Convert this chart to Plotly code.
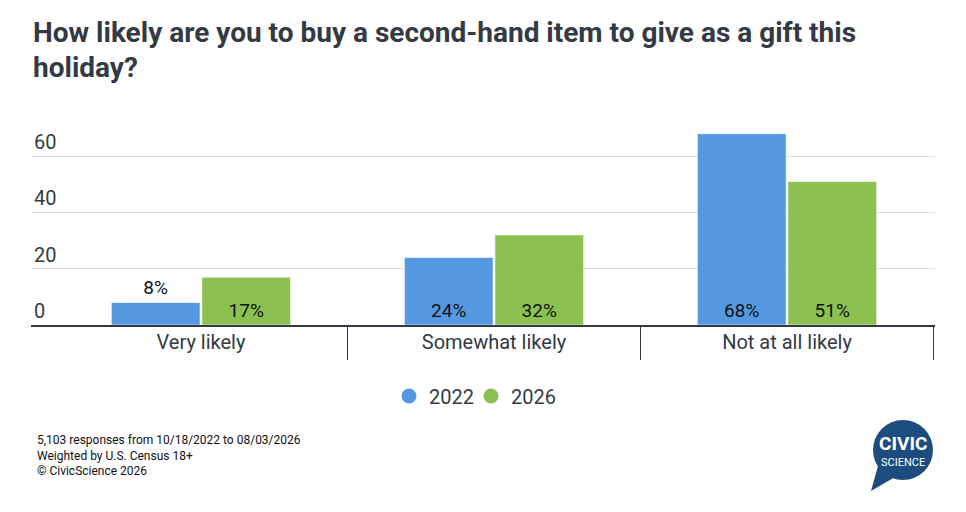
import plotly.graph_objects as go

# Survey data
categories = ['Very likely', 'Somewhat likely', 'Not at all likely']
years = ['2022', '2026']
values_2022 = [8, 24, 68]
values_2026 = [17, 32, 51]
y_ticks = [0, 20, 40, 60]

colors = {'2022': '#5699e3', '2026': '#8cc152'}
dark = '#333a44'
font = 'Roboto'

# page body adds an 8px offset, so the figure is a little smaller
O = 8
W, H = 966 - O, 512 - O
L, R, T, B = 31 - O, 31, 114 - O, 187


def px(x, y):
    # convert a screen pixel position to paper coordinates
    x, y = x - O, y - O
    return (x - L) / (W - L - R), (H - B - y) / (H - T - B)


fig = go.Figure()

series = [('2022', values_2022, ['outside', 'inside', 'inside'], 'legend'),
          ('2026', values_2026, ['inside', 'inside', 'inside'], 'legend2')]
for year, vals, pos, leg in series:
    fig.add_trace(go.Bar(
        x=categories,
        y=vals,
        name=year,
        marker=dict(color=colors[year], line=dict(color='rgba(255,255,255,0.6)', width=1)),
        text=[f'{v}%' for v in vals],
        textposition=pos,
        insidetextanchor='start',
        constraintext='none',
        textfont=dict(family=font, size=19, color='#111111'),
        cliponaxis=False,
        showlegend=False,
    ))
    # circle legend entry
    fig.add_trace(go.Scatter(
        x=[None], y=[None], mode='markers', name=year, legend=leg,
        marker=dict(symbol='circle', size=15, color=colors[year]),
    ))

leg_style = dict(
    orientation='h', xanchor='left', yanchor='middle',
    y=px(0, 396)[1],
    font=dict(family=font, size=20, color=dark),
    itemwidth=30,
    bgcolor='rgba(0,0,0,0)',
)

fig.update_layout(
    width=W,
    height=H,
    margin=dict(l=L, r=R, t=T, b=B, pad=0),
    paper_bgcolor='white',
    plot_bgcolor='white',
    barmode='group',
    bargap=0.382,
    bargroupgap=0.02,
    font=dict(family=font, color=dark),
    legend=dict(x=px(389, 0)[0], **leg_style),
    legend2=dict(x=px(471, 0)[0], **leg_style),
)

fig.update_xaxes(
    range=[-0.58, 2.505],
    showline=True, linecolor=dark, linewidth=2,
    ticks='outside', tickson='boundaries', ticklen=33, tickcolor=dark, tickwidth=1,
    ticklabelstandoff=-2,
    tickfont=dict(family=font, size=20, color=dark),
    showgrid=False, fixedrange=True,
)
fig.update_yaxes(
    range=[0, 75],
    tickvals=y_ticks,
    ticklabelposition='inside top',
    tickfont=dict(family=font, size=20, color=dark),
    showgrid=True, gridcolor='#dcdcdc', gridwidth=1,
    zeroline=False, showline=False,
)

# title, one annotation per line to control line spacing
title_lines = ['How likely are you to buy a second-hand item to give as a gift this', 'holiday?']
for i, line in enumerate(title_lines):
    tx, ty = px(31, 33 + 34 * i)
    fig.add_annotation(
        x=tx, y=ty, xref='paper', yref='paper', xanchor='left', yanchor='middle',
        showarrow=False, text=f'<b>{line}</b>',
        font=dict(family=font, size=28, color=dark),
    )

# footer
fx, fy = px(35, 431)
fig.add_annotation(
    x=fx, y=fy, xref='paper', yref='paper', xanchor='left', yanchor='top',
    align='left', showarrow=False,
    text='5,103 responses from 10/18/2022 to 08/03/2026<br>Weighted by U.S. Census 18+<br>© CivicScience 2026',
    font=dict(family=font, size=12, color='#111111'),
)

# CivicScience logo
logo_blue = '#1c4d7e'
x0, y0 = px(873, 420)
x1, y1 = px(933, 480)
fig.add_shape(type='circle', xref='paper', yref='paper', x0=x0, y0=y0, x1=x1, y1=y1,
              fillcolor=logo_blue, line_width=0, layer='below')
a = px(878, 466)
b = px(871, 491)
c = px(895, 477)
fig.add_shape(type='path', xref='paper', yref='paper',
              path=f'M {a[0]},{a[1]} L {b[0]},{b[1]} L {c[0]},{c[1]} Z',
              fillcolor=logo_blue, line_width=0, layer='below')
cx, cy = px(903, 443)
fig.add_annotation(x=cx, y=cy, xref='paper', yref='paper', showarrow=False,
                   xanchor='center', yanchor='middle',
                   text='<b>CIVIC</b>', font=dict(family=font, size=19, color='white'))
sx, sy = px(903, 462)
fig.add_annotation(x=sx, y=sy, xref='paper', yref='paper', showarrow=False,
                   xanchor='center', yanchor='middle',
                   text='SCIENCE', font=dict(family=font, size=11, color='white'))

fig.write_html("out.html")
